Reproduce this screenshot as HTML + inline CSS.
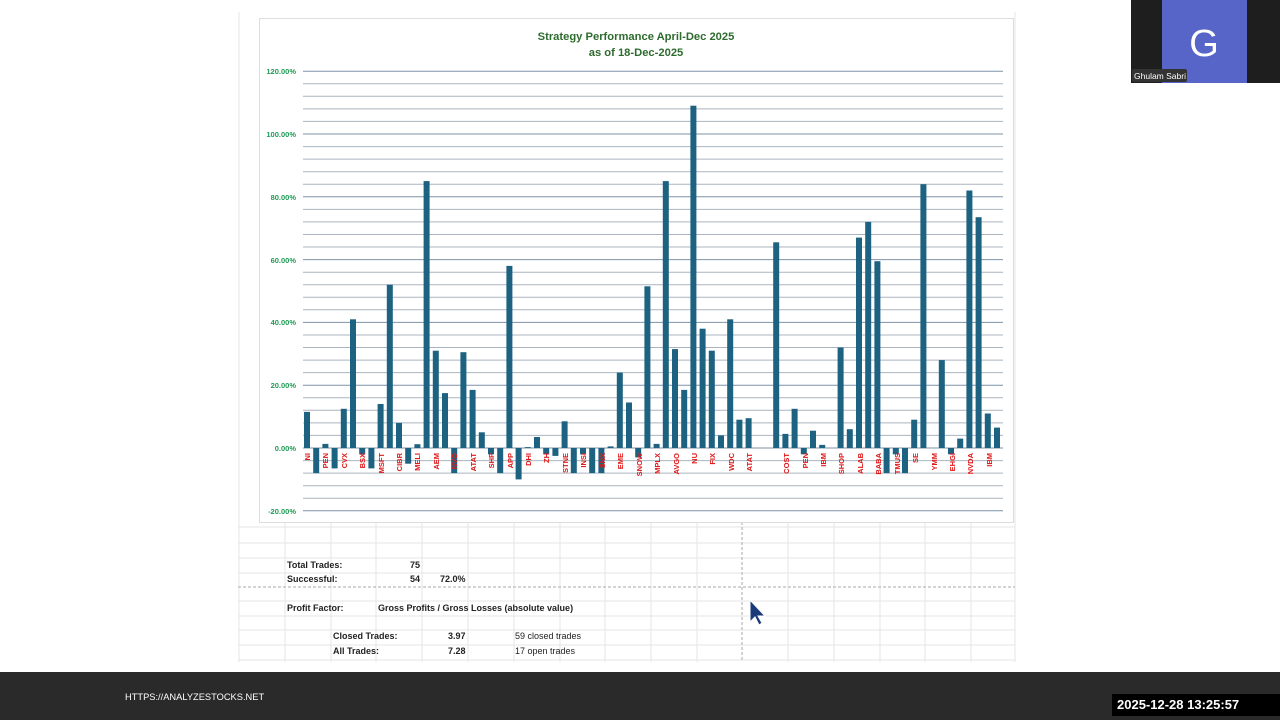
<!DOCTYPE html>
<html><head><meta charset="utf-8"><style>
body{margin:0;width:1280px;height:720px;overflow:hidden;background:#fff;font-family:"Liberation Sans",sans-serif;position:relative}
.t{position:absolute;font-size:9px;color:#222;font-weight:bold;white-space:nowrap}
</style></head><body>
<svg width="1280" height="720" style="position:absolute;left:0;top:0" id="s">
<g stroke="#e6e6e6" stroke-width="1">
<line x1="238" y1="527" x2="1015" y2="527"/><line x1="238" y1="543" x2="1015" y2="543"/><line x1="238" y1="558" x2="1015" y2="558"/><line x1="238" y1="573" x2="1015" y2="573"/><line x1="238" y1="601" x2="1015" y2="601"/><line x1="238" y1="616" x2="1015" y2="616"/><line x1="238" y1="630" x2="1015" y2="630"/><line x1="238" y1="645" x2="1015" y2="645"/><line x1="238" y1="660" x2="1015" y2="660"/>
<line x1="285" y1="522" x2="285" y2="662"/><line x1="331" y1="522" x2="331" y2="662"/><line x1="376" y1="522" x2="376" y2="662"/><line x1="422" y1="522" x2="422" y2="662"/><line x1="468" y1="522" x2="468" y2="662"/><line x1="514" y1="522" x2="514" y2="662"/><line x1="560" y1="522" x2="560" y2="662"/><line x1="605" y1="522" x2="605" y2="662"/><line x1="651" y1="522" x2="651" y2="662"/><line x1="697" y1="522" x2="697" y2="662"/><line x1="788" y1="522" x2="788" y2="662"/><line x1="834" y1="522" x2="834" y2="662"/><line x1="880" y1="522" x2="880" y2="662"/><line x1="925" y1="522" x2="925" y2="662"/><line x1="971" y1="522" x2="971" y2="662"/>
<line x1="239" y1="12" x2="239" y2="662"/><line x1="1015" y1="12" x2="1015" y2="662"/>
</g>
<line x1="238" y1="587" x2="1015" y2="587" stroke="#aaa" stroke-dasharray="3,2"/>
<line x1="742" y1="522" x2="742" y2="662" stroke="#aaa" stroke-dasharray="3,2"/>
<rect x="259.5" y="18.5" width="754" height="504" fill="#fff" stroke="#ddd"/>
<text x="636" y="40" text-anchor="middle" font-size="11.2" font-weight="bold" fill="#2e6b2e">Strategy Performance April-Dec 2025</text>
<text x="636" y="56" text-anchor="middle" font-size="11.2" font-weight="bold" fill="#2e6b2e">as of 18-Dec-2025</text>
<g id="grid"></g>
<g font-size="7.5" font-weight="bold" fill="#1f9a55" text-anchor="end">
<text x="296" y="74">120.00%</text><text x="296" y="137">100.00%</text><text x="296" y="200">80.00%</text><text x="296" y="263">60.00%</text><text x="296" y="325">40.00%</text><text x="296" y="388">20.00%</text><text x="296" y="451">0.00%</text><text x="296" y="514">-20.00%</text>
</g>
<g id="bars" fill="#1d6280"></g>
<g font-size="7.5" font-weight="bold" fill="#e01818" text-anchor="end" id="lbl">
<text transform="translate(310,453) rotate(-90)">NI</text>
<text transform="translate(328,453) rotate(-90)">PEN</text>
<text transform="translate(347,453) rotate(-90)">CVX</text>
<text transform="translate(365,453) rotate(-90)">BSX</text>
<text transform="translate(384,453) rotate(-90)">MSFT</text>
<text transform="translate(402,453) rotate(-90)">CIBR</text>
<text transform="translate(420,453) rotate(-90)">MELI</text>
<text transform="translate(439,453) rotate(-90)">AEM</text>
<text transform="translate(457,453) rotate(-90)">NVO</text>
<text transform="translate(476,453) rotate(-90)">ATAT</text>
<text transform="translate(494,453) rotate(-90)">SHP</text>
<text transform="translate(513,453) rotate(-90)">APP</text>
<text transform="translate(531,453) rotate(-90)">DHI</text>
<text transform="translate(549,453) rotate(-90)">ZH</text>
<text transform="translate(568,453) rotate(-90)">STNE</text>
<text transform="translate(586,453) rotate(-90)">INSI</text>
<text transform="translate(605,453) rotate(-90)">SNX</text>
<text transform="translate(623,453) rotate(-90)">EME</text>
<text transform="translate(642,453) rotate(-90)">SNOW</text>
<text transform="translate(660,453) rotate(-90)">MPLX</text>
<text transform="translate(679,453) rotate(-90)">AVGO</text>
<text transform="translate(697,453) rotate(-90)">NU</text>
<text transform="translate(715,453) rotate(-90)">FIX</text>
<text transform="translate(734,453) rotate(-90)">WDC</text>
<text transform="translate(752,453) rotate(-90)">ATAT</text>
<text transform="translate(789,453) rotate(-90)">COST</text>
<text transform="translate(808,453) rotate(-90)">PEN</text>
<text transform="translate(826,453) rotate(-90)">IBM</text>
<text transform="translate(844,453) rotate(-90)">SHOP</text>
<text transform="translate(863,453) rotate(-90)">ALAB</text>
<text transform="translate(881,453) rotate(-90)">BABA</text>
<text transform="translate(900,453) rotate(-90)">TMUS</text>
<text transform="translate(918,453) rotate(-90)">SE</text>
<text transform="translate(937,453) rotate(-90)">YMM</text>
<text transform="translate(955,453) rotate(-90)">EHGI</text>
<text transform="translate(973,453) rotate(-90)">NVDA</text>
<text transform="translate(992,453) rotate(-90)">IBM</text>
</g>
<rect x="0" y="672" width="1280" height="48" fill="#2a2a2a"/>
<text x="125" y="700" font-size="9.3" fill="#fff">HTTPS://ANALYZESTOCKS.NET</text>
<rect x="1112" y="694" width="168" height="22" fill="#000"/>
<text x="1117" y="709" font-size="13" font-weight="bold" fill="#fff">2025-12-28 13:25:57</text>
<rect x="1131" y="0" width="149" height="83" fill="#1e1e1e"/>
<rect x="1162" y="0" width="85" height="83" fill="#5865c8"/>
<text x="1204" y="56" text-anchor="middle" font-size="38" fill="#fff">G</text>
<rect x="1132" y="69" width="55" height="13" fill="#333" rx="2"/>
<text x="1134" y="79" font-size="8.5" fill="#fff">Ghulam Sabri</text>
<path d="M750,600 L750,622 L755,617 L759,625 L762,623 L758,616 L765,616 Z" fill="#1a3a7a" stroke="#fff" stroke-width="1"/>
</svg>
<div class="t" style="left:287px;top:560px">Total Trades:</div>
<div class="t" style="left:410px;top:560px">75</div>
<div class="t" style="left:287px;top:574px">Successful:</div>
<div class="t" style="left:410px;top:574px">54</div>
<div class="t" style="left:440px;top:574px">72.0%</div>
<div class="t" style="left:287px;top:603px">Profit Factor:</div>
<div class="t" style="left:378px;top:603px">Gross Profits / Gross Losses (absolute value)</div>
<div class="t" style="left:333px;top:631px">Closed Trades:</div>
<div class="t" style="left:448px;top:631px">3.97</div>
<div class="t" style="left:515px;top:631px;font-weight:normal">59 closed trades</div>
<div class="t" style="left:333px;top:646px">All Trades:</div>
<div class="t" style="left:448px;top:646px">7.28</div>
<div class="t" style="left:515px;top:646px;font-weight:normal">17 open trades</div>
<script>
var ns="http://www.w3.org/2000/svg";
var g=document.getElementById("grid");
for(var p=-20;p<=120;p+=4){var y=448-p*3.14;var l=document.createElementNS(ns,"line");l.setAttribute("x1",303);l.setAttribute("x2",1003);l.setAttribute("y1",y.toFixed(1));l.setAttribute("y2",y.toFixed(1));l.setAttribute("stroke",p%20==0?"#7f93a8":"#aab4c0");l.setAttribute("stroke-width","1");g.appendChild(l);}
var v=[11.5,-8,1.3,-6.5,12.5,41,-2,-6.5,14,52,8,-5,1.2,85,31,17.5,-8,30.5,18.5,5,-2,-8,58,-10,0.3,3.5,-2,-2.5,8.5,-8,-2,-8,-8,0.5,24,14.5,-3,51.5,1.3,85,31.5,18.5,109,38,31,4,41,9,9.5,0,0,65.5,4.5,12.5,-2,5.5,1,0,32,6,67,72,59.5,-8,-2,-8,9,84,0,28,-2,3,82,73.5,11,6.5];
var b=document.getElementById("bars");
v.forEach(function(val,i){if(val==0)return;var x=307+i*9.2-3;var h=Math.abs(val)*3.14;var y=val>0?448-h:448;var r=document.createElementNS(ns,"rect");r.setAttribute("x",x.toFixed(1));r.setAttribute("y",y.toFixed(1));r.setAttribute("width",6);r.setAttribute("height",h.toFixed(1));b.appendChild(r);});
</script>
</body></html>
